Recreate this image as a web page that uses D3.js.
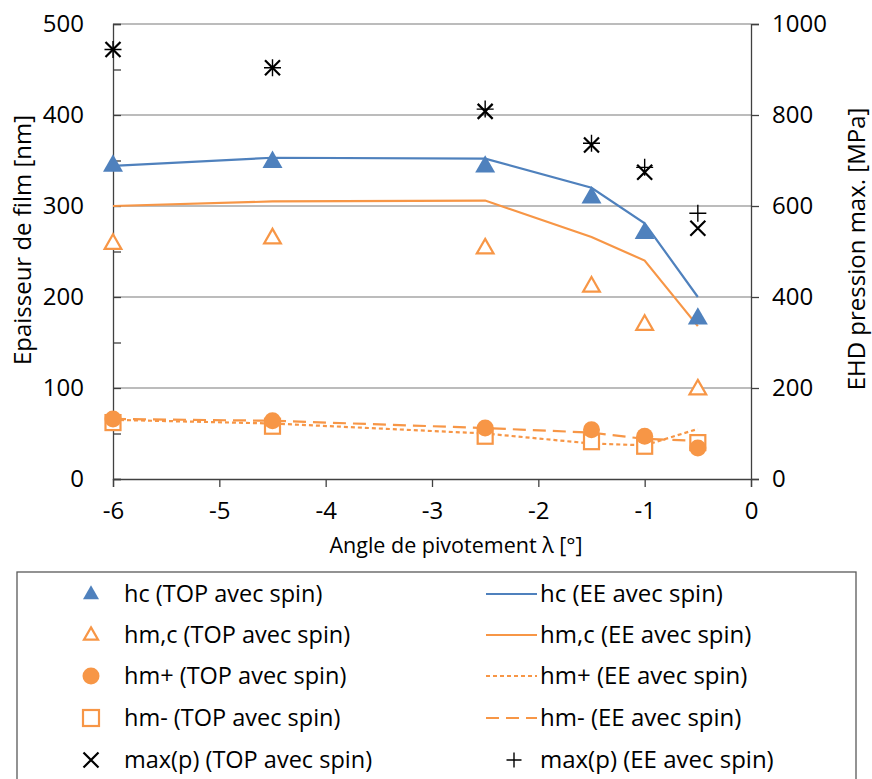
<!DOCTYPE html>
<html><head><meta charset="utf-8">
<script src="https://cdn.jsdelivr.net/npm/d3@7"></script>
<style>
body{margin:0;background:#fff;}
text{font-family:"Open Sans",sans-serif;fill:#000;}
</style></head>
<body>
<svg id="c" width="872" height="779"></svg>
<script>
// ---- data ----
const angles = [-6, -4.5, -2.5, -1.5, -1, -0.5];
const hcTOP = [345, 349, 344, 310, 271, 177];
const hcEE = [344, 353, 352, 320, 281, 200];
const hmcTOP = [259, 265, 254, 212, 170, 99];
const hmcEE = [300, 305, 306, 266, 240, 168];
const hmPlusTOP = [66, 64, 56, 54, 47, 34];
const hmPlusEE = [65, 61, 50, 39, 37, 55];
const hmMinusTOP = [62, 58, 47, 41, 36, 40];
const hmMinusEE = [66, 64, 56, 51, 44, 42];
const maxpTOP = [944, 904, 808, 734, 674, 551];
const maxpEE = [944, 904, 813, 738, 685, 584];
const xTicks = [-6, -5, -4, -3, -2, -1, 0];
const yLeftTicks = [0, 100, 200, 300, 400, 500];
const yRightTicks = [0, 200, 400, 600, 800, 1000];
const legendLeft = ["hc (TOP avec spin)", "hm,c (TOP avec spin)", "hm+ (TOP avec spin)", "hm- (TOP avec spin)", "max(p) (TOP avec spin)"];
const legendRight = ["hc (EE avec spin)", "hm,c (EE avec spin)", "hm+ (EE avec spin)", "hm- (EE avec spin)", "max(p) (EE avec spin)"];

const BLUE = "#4f81bd", ORANGE = "#f79646";
const svg = d3.select("#c");
const x = d3.scaleLinear().domain([-6, 0]).range([113, 751]);
const yL = d3.scaleLinear().domain([0, 500]).range([479, 24]);
const yR = d3.scaleLinear().domain([0, 1000]).range([479, 24]);

// gridlines
svg.append("g").selectAll("line").data(yLeftTicks.filter(d => d > 0)).join("line")
  .attr("x1", x(-6)).attr("x2", x(0)).attr("y1", d => yL(d)).attr("y2", d => yL(d))
  .attr("stroke", "#a6a6a6").attr("stroke-width", 1.3);

// axes
const axisColor = "#404040";
function styleAxis(g, fs) {
  g.select(".domain").attr("stroke", axisColor).attr("stroke-width", 1.3);
  g.selectAll(".tick line").attr("stroke", axisColor).attr("stroke-width", 1.3);
  g.selectAll(".tick text").style("font-size", fs + "px").attr("fill", "#000");
}
const gL = svg.append("g").attr("transform", `translate(${x(-6)},0)`)
  .call(d3.axisLeft(yL).tickValues(d3.range(0, 501, 50)).tickSize(-8).tickPadding(28)
    .tickFormat(d => d % 100 === 0 ? d : ""));
styleAxis(gL, 24);
gL.selectAll(".tick text").attr("x", -29);
const gR = svg.append("g").attr("transform", `translate(${x(0)},0)`)
  .call(d3.axisRight(yR).tickValues(yRightTicks).tickSize(8).tickPadding(13).tickFormat(d3.format("d")));
styleAxis(gR, 24);
const gB = svg.append("g").attr("transform", `translate(0,${yL(0)})`)
  .call(d3.axisBottom(x).tickValues(xTicks).tickSize(8).tickPadding(15).tickFormat(d3.format("d")));
styleAxis(gB, 24);
gB.selectAll(".tick text").text(d => d < 0 ? "-" + Math.abs(d) : d);

// axis titles
svg.append("text").attr("transform", "translate(456,545)").attr("text-anchor", "middle").attr("dy", "0.35em")
  .style("font-size", "21.5px").text("Angle de pivotement λ [°]");
svg.append("text").attr("transform", "translate(23,240) rotate(-90)").attr("text-anchor", "middle").attr("dy", "0.35em")
  .style("font-size", "24px").text("Epaisseur de film [nm]");
svg.append("text").attr("transform", "translate(857,249) rotate(-90)").attr("text-anchor", "middle").attr("dy", "0.35em")
  .style("font-size", "24px").text("EHD pression max. [MPa]");

// lines
function drawLine(vals, scale, color, dash) {
  const line = d3.line().x((d, i) => x(angles[i])).y(d => scale(d));
  svg.append("path").datum(vals).attr("d", line).attr("fill", "none")
    .attr("stroke", color).attr("stroke-width", 2.2)
    .attr("stroke-dasharray", dash || null);
}
drawLine(hcEE, yL, BLUE);
drawLine(hmcEE, yL, ORANGE);
drawLine(hmPlusEE, yL, ORANGE, "4,3");
drawLine(hmMinusEE, yL, ORANGE, "13,7");

// marker helpers
function triPath(s) { const h = s * 0.87; return `M0,${-h*0.62}L${s/2},${h*0.38}L${-s/2},${h*0.38}Z`; }
function marker(g, type, size) {
  if (type === "triF") g.append("path").attr("d", triPath(size)).attr("fill", BLUE);
  if (type === "triO") g.append("path").attr("d", triPath(size*0.88)).attr("fill", "#fff").attr("stroke", ORANGE).attr("stroke-width", 2.2);
  if (type === "circ") g.append("circle").attr("r", size/2).attr("fill", ORANGE);
  if (type === "sq") g.append("rect").attr("x", -size/2).attr("y", -size/2).attr("width", size).attr("height", size).attr("fill", "#fff").attr("stroke", ORANGE).attr("stroke-width", 2.2);
  if (type === "x") { const s = size/2; g.append("path").attr("d", `M${-s},${-s}L${s},${s}M${-s},${s}L${s},${-s}`).attr("stroke", "#000").attr("stroke-width", 2.2); }
  if (type === "plus") { const s = size/2; g.append("path").attr("d", `M${-s},0L${s},0M0,${-s}L0,${s}`).attr("stroke", "#000").attr("stroke-width", 1.4); }
}
function drawMarkers(vals, scale, type, size) {
  vals.forEach((v, i) => {
    const g = svg.append("g").attr("transform", `translate(${x(angles[i])},${scale(v)})`);
    marker(g, type, size);
  });
}
drawMarkers(hmMinusTOP, yL, "sq", 15);
drawMarkers(hmPlusTOP, yL, "circ", 17);
drawMarkers(hmcTOP, yL, "triO", 19);
drawMarkers(hcTOP, yL, "triF", 20);
drawMarkers(maxpTOP, yR, "x", 15);
drawMarkers(maxpEE, yR, "plus", 17);

// legend
svg.append("rect").attr("x", 17).attr("y", 572).attr("width", 839).attr("height", 230)
  .attr("fill", "none").attr("stroke", "#595959").attr("stroke-width", 1.3);
const rowY = [594, 635, 676, 718, 760];
const leftTypes = ["triF", "triO", "circ", "sq", "x"];
const leftSizes = [16, 16, 17, 16, 15];
legendLeft.forEach((t, i) => {
  const g = svg.append("g").attr("transform", `translate(91,${rowY[i]})`);
  marker(g, leftTypes[i], leftSizes[i]);
  svg.append("text").attr("x", 124).attr("y", rowY[i]).attr("dy", "0.35em").style("font-size", "23.5px").text(t);
});
const rightDash = [null, null, "4,3", "13,7"];
legendRight.forEach((t, i) => {
  if (i < 4) {
    svg.append("line").attr("x1", 486).attr("x2", 537).attr("y1", rowY[i]).attr("y2", rowY[i])
      .attr("stroke", i === 0 ? BLUE : ORANGE).attr("stroke-width", 2.2).attr("stroke-dasharray", rightDash[i]);
  } else {
    const g = svg.append("g").attr("transform", `translate(514,${rowY[i]})`);
    marker(g, "plus", 15);
  }
  svg.append("text").attr("x", 540).attr("y", rowY[i]).attr("dy", "0.35em").style("font-size", "24px").text(t);
});
</script>
</body></html>
